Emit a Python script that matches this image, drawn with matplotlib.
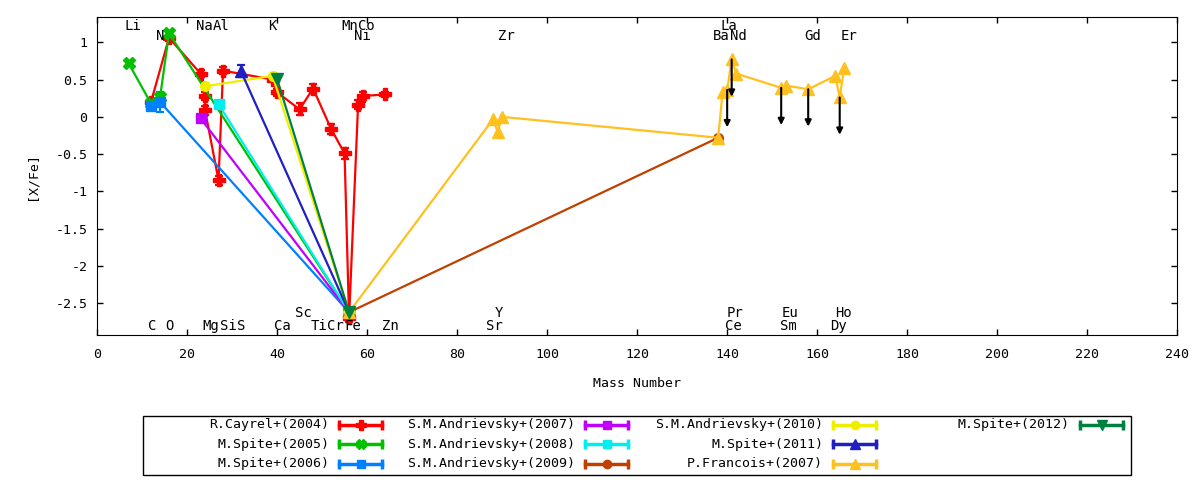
import matplotlib
matplotlib.use("Agg")
import matplotlib.pyplot as plt
from matplotlib.lines import Line2D
from matplotlib.patches import Rectangle

plt.rcParams['font.family'] = ['DejaVu Sans Mono', 'DejaVu Sans']

# ---- data (mass number, [X/Fe], error) ----
cayrel_x = [12, 16, 23, 24, 24, 27, 28, 39, 40, 45, 48, 52, 55, 56, 58, 59, 64]
cayrel_y = [0.20, 1.06, 0.58, 0.28, 0.09, -0.85, 0.62, 0.50, 0.33, 0.10, 0.38, -0.16, -0.49, -2.70, 0.16, 0.28, 0.30]
cayrel_err = [0.0, 0.04, 0.05, 0.06, 0.06, 0.06, 0.05, 0.0, 0.05, 0.08, 0.06, 0.07, 0.07, 0.05, 0.06, 0.06, 0.04]

spite05_x = [7, 12, 14, 16, 56]
spite05_y = [0.72, 0.18, 0.26, 1.12, -2.62]

spite06_x = [12, 14, 56]
spite06_y = [0.15, 0.20, -2.62]
spite06_err = [0.03, 0.13, 0.0]

andr07_x = [23, 56]
andr07_y = [-0.02, -2.62]

andr08_x = [27, 56]
andr08_y = [0.17, -2.62]

andr09_x = [56, 138]
andr09_y = [-2.62, -0.28]

andr10_x = [24, 39, 56]
andr10_y = [0.41, 0.55, -2.62]

spite11_x = [32, 56]
spite11_y = [0.61, -2.62]
spite11_err = [0.08, 0.0]

francois_x = [56, 88, 89, 90, 138, 139, 140, 141, 142, 152, 153, 158, 164, 165, 166]
francois_y = [-2.62, -0.03, -0.20, 0.00, -0.28, 0.34, 0.36, 0.77, 0.58, 0.39, 0.42, 0.37, 0.55, 0.26, 0.66]
francois_upper = [0, 0, 0, 0, 0, 0, 1, 1, 0, 1, 0, 1, 0, 1, 0]

spite12_x = [40, 56]
spite12_y = [0.51, -2.62]

# element labels (name, x position, row)
elem_names = ['Li', 'Na', 'Al', 'K', 'Mn', 'Co', 'La',
              'N', 'Ni', 'Zr', 'Ba', 'Nd', 'Gd', 'Er',
              'Sc', 'Y', 'Pr', 'Eu', 'Ho',
              'C', 'O', 'Mg', 'Si', 'S', 'Ca', 'Ti', 'Cr', 'Fe', 'Zn', 'Sr', 'Ce', 'Sm', 'Dy']
elem_pos = [8.0, 23.9, 27.6, 38.9, 56.2, 59.8, 140.3,
            14.1, 59.0, 90.9, 138.7, 142.4, 159.0, 167.1,
            45.9, 89.2, 141.8, 154.0, 165.8,
            12.2, 16.2, 25.2, 29.1, 32.1, 41.1, 49.4, 53.0, 56.8, 65.1, 88.2, 141.4, 153.6, 164.7]
elem_row = [1.22] * 7 + [1.09] * 7 + [-2.63] * 5 + [-2.80] * 14

series = [
    ('R.Cayrel+(2004)', cayrel_x, cayrel_y, cayrel_err, '#ff0000', 'P', 8),
    ('M.Spite+(2005)', spite05_x, spite05_y, None, '#00c000', 'X', 8),
    ('M.Spite+(2006)', spite06_x, spite06_y, spite06_err, '#0080ff', 's', 7),
    ('S.M.Andrievsky+(2007)', andr07_x, andr07_y, None, '#c000ff', 's', 7),
    ('S.M.Andrievsky+(2008)', andr08_x, andr08_y, None, '#00eeee', 's', 7),
    ('S.M.Andrievsky+(2009)', andr09_x, andr09_y, None, '#c04000', 'o', 7),
    ('S.M.Andrievsky+(2010)', andr10_x, andr10_y, None, '#eeee00', 'o', 7),
    ('M.Spite+(2011)', spite11_x, spite11_y, spite11_err, '#2020c0', '^', 8),
    ('P.Francois+(2007)', francois_x, francois_y, None, '#ffc020', '^', 8),
    ('M.Spite+(2012)', spite12_x, spite12_y, None, '#008040', 'v', 8),
]

fig = plt.figure(figsize=(12, 4.8), dpi=100)
ax = fig.add_axes([97 / 1200, 1 - 335 / 480, 1080.3 / 1200, 317.7 / 480])

for name, x, y, err, col, mk, ms in series:
    ax.errorbar(x, y, yerr=err, color=col, lw=1.6, marker=mk, ms=ms,
                mec=col, mfc=col, capsize=3, elinewidth=1.6, capthick=1.6)

# upper limits
for x, y, up in zip(francois_x, francois_y, francois_upper):
    if up:
        ax.annotate('', xy=(x, y - 0.5), xytext=(x, y),
                    arrowprops=dict(arrowstyle='-|>', color='black', lw=1.5,
                                    mutation_scale=9, shrinkA=0, shrinkB=0))

for nm, xp, yp in zip(elem_names, elem_pos, elem_row):
    ax.text(xp, yp, nm, ha='center', va='center', fontsize=10)

ax.set_xlim(0, 240)
ax.set_ylim(-2.925, 1.335)
ax.set_xticks(range(0, 241, 20))
ax.set_yticks([1, 0.5, 0, -0.5, -1, -1.5, -2, -2.5])
ax.set_yticklabels(['1', '0.5', '0', '-0.5', '-1', '-1.5', '-2', '-2.5'])
ax.tick_params(direction='in', top=True, right=True, length=4, width=1, labelsize=9.5)
ax.tick_params(axis='x', pad=9)
ax.tick_params(axis='y', pad=7)
ax.set_xlabel('Mass Number', fontsize=9.5, labelpad=12)
ax.set_ylabel('[X/Fe]', fontsize=9.5, labelpad=12)

# legend drawn gnuplot-style: 4 columns x 3 rows, text then sample
fig.add_artist(Rectangle((142.7 / 1200, 1 - 475 / 480), (1130.7 - 142.7) / 1200, 59 / 480,
                         transform=fig.transFigure, fill=False, ec='black', lw=1))
col_right = [329, 575, 823, 1070]
row_y = [424.7, 444.3, 464.0]
slots = [(0, 0), (0, 1), (0, 2), (1, 0), (1, 1), (1, 2), (2, 0), (2, 1), (2, 2), (3, 0)]
for (name, x, y, err, col, mk, ms), (c, r) in zip(series, slots):
    tx = col_right[c] / 1200
    ty = 1 - row_y[r] / 480
    fig.text(tx, ty, name, ha='right', va='center', fontsize=9.5)
    x0 = (col_right[c] + 10) / 1200
    x1 = (col_right[c] + 53) / 1200
    fig.add_artist(Line2D([x0, x1], [ty, ty], transform=fig.transFigure, color=col, lw=2.5,
                          marker='|', ms=7, mew=2.5))
    fig.add_artist(Line2D([(x0 + x1) / 2], [ty], transform=fig.transFigure, color=col,
                          marker=mk, ms=ms - 1, mec=col, mfc=col, lw=0))

fig.savefig('out.png', dpi=100)
